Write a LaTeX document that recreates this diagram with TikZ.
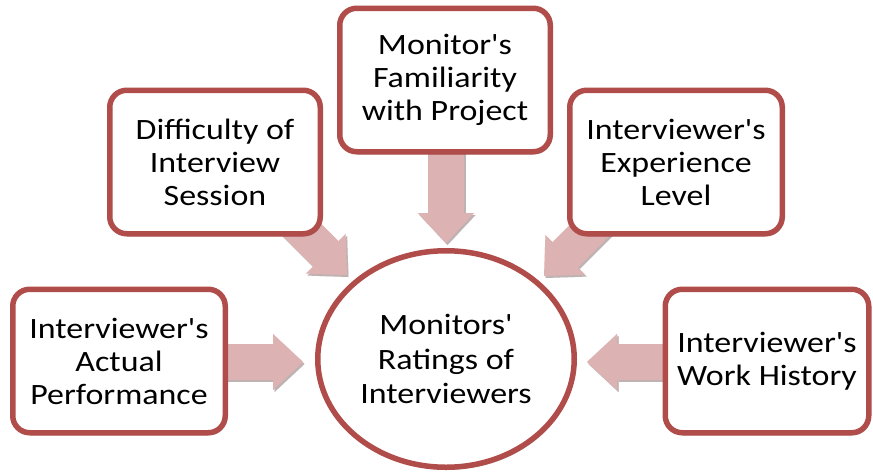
\documentclass[tikz,border=0pt]{standalone}
\usepackage{fontspec}
\setmainfont{Carlito}[Ligatures=TeXOff, FakeStretch=1.15]
\usetikzlibrary{arrows.meta,shadows,shapes.geometric}
\definecolor{boxred}{RGB}{176,76,73}
\definecolor{arrowpink}{RGB}{221,178,178}
\definecolor{arrowshade}{RGB}{190,178,178}

\begin{document}
\begin{tikzpicture}[x=1pt,y=-1pt,
  boxshadow/.style={drop shadow={shadow xshift=1.5pt,shadow yshift=-2.5pt,opacity=0.25,fill=black}},
  factor/.style={draw=boxred, line width=5.5pt, fill=white, rounded corners=17pt,
    align=center, inner sep=0pt, minimum width=#1, minimum height=143.5pt,
    font=\fontsize{29.5}{33}\selectfont, boxshadow},
  outcome/.style={ellipse, draw=boxred, line width=5.5pt, fill=white, align=center,
    inner sep=0pt, minimum width=256.5pt, minimum height=216.5pt,
    font=\fontsize{29.5}{34.5}\selectfont, boxshadow},
  fatarrow/.style={line width=36pt, draw=arrowpink,
    -{Triangle[length=30pt, width=56pt, line width=0.01pt]}},
  fatshade/.style={line width=36pt, draw=arrowshade,
    -{Triangle[length=30pt, width=56pt, line width=0.01pt]},
    transform canvas={shift={(1.5pt,-2pt)}}}
]
\useasboundingbox[fill=white] (0,0) rectangle (873,472);

% where each fat arrow starts (hidden under its box) and where its point lies
\coordinate (srcTL) at (257,185);  \coordinate (tipTL) at (347,275);
\coordinate (srcTC) at (446,140);  \coordinate (tipTC) at (446,243);
\coordinate (srcTR) at (634,186);  \coordinate (tipTR) at (544,276);
\coordinate (srcL)  at (200,362);  \coordinate (tipL)  at (303,362);
\coordinate (srcR)  at (700,362);  \coordinate (tipR)  at (587,362);

% arrows, with a faint shadow below each
\foreach \s/\t in {srcTL/tipTL, srcTC/tipTC, srcTR/tipTR, srcL/tipL, srcR/tipR}{
  \draw[fatshade] (\s) -- (\t);
  \draw[fatarrow] (\s) -- (\t);
}

% influencing factors
\node[factor=210.5pt] (tl) at (215,162) {Difficulty of\\Interview\\Session};
\node[factor=210.5pt] (tc) at (445,80)  {Monitor's\\Familiarity\\with Project};
\node[factor=212.5pt] (tr) at (676,162) {Interviewer's\\Experience\\Level};
\node[factor=212.5pt] (l)  at (119,361) {Interviewer's\\Actual\\Performance};
\node[factor=203.5pt] (r)  at (767,361) {Interviewer's\\Work History};

% outcome
\node[outcome] (c) at (446,359) {Monitors'\\Ratings of\\Interviewers};
\end{tikzpicture}
\end{document}
